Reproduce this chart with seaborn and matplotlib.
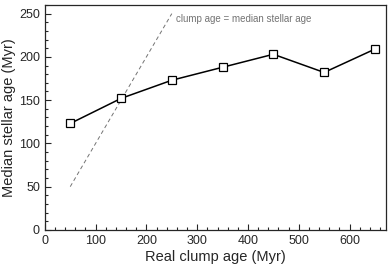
import numpy as np
import pandas as pd
import seaborn as sns
import matplotlib.pyplot as plt
from matplotlib.ticker import MultipleLocator

# data
real_age = [50, 150, 250, 350, 450, 550, 650]
median_age = [123, 152, 173, 188, 203, 182, 209]
one_to_one_x = [50, 250]
one_to_one_y = [50, 250]

df = pd.DataFrame({'real': real_age, 'median': median_age})

sns.set_style('ticks')
plt.rcParams['font.family'] = ['Liberation Sans', 'DejaVu Sans']

fig, ax = plt.subplots(figsize=(3.9, 2.76), dpi=100)

sns.lineplot(x=one_to_one_x, y=one_to_one_y, ax=ax, color='0.45',
             linestyle=(0, (4, 3)), linewidth=0.7)
sns.lineplot(data=df, x='real', y='median', ax=ax, color='black', linewidth=1.1,
             marker='s', markersize=6, markerfacecolor='white',
             markeredgecolor='black', markeredgewidth=0.9)

ax.text(258, 244, 'clump age = median stellar age', fontsize=7, color='0.45',
        va='center', ha='left')

ax.set_xlim(0, 672)
ax.set_ylim(0, 260)
ax.xaxis.set_major_locator(MultipleLocator(100))
ax.xaxis.set_minor_locator(MultipleLocator(20))
ax.yaxis.set_major_locator(MultipleLocator(50))
ax.yaxis.set_minor_locator(MultipleLocator(10))
ax.tick_params(which='both', direction='in', labelsize=9, width=0.8)
ax.tick_params(which='major', length=4)
ax.tick_params(which='minor', length=2)
for s in ax.spines.values():
    s.set_linewidth(0.9)

ax.set_xlabel('Real clump age (Myr)', fontsize=10.5, labelpad=2)
ax.set_ylabel('Median stellar age (Myr)', fontsize=10.5, labelpad=2)

fig.subplots_adjust(left=0.115, right=0.99, top=0.982, bottom=0.167)
fig.savefig('out.png', dpi=100)
